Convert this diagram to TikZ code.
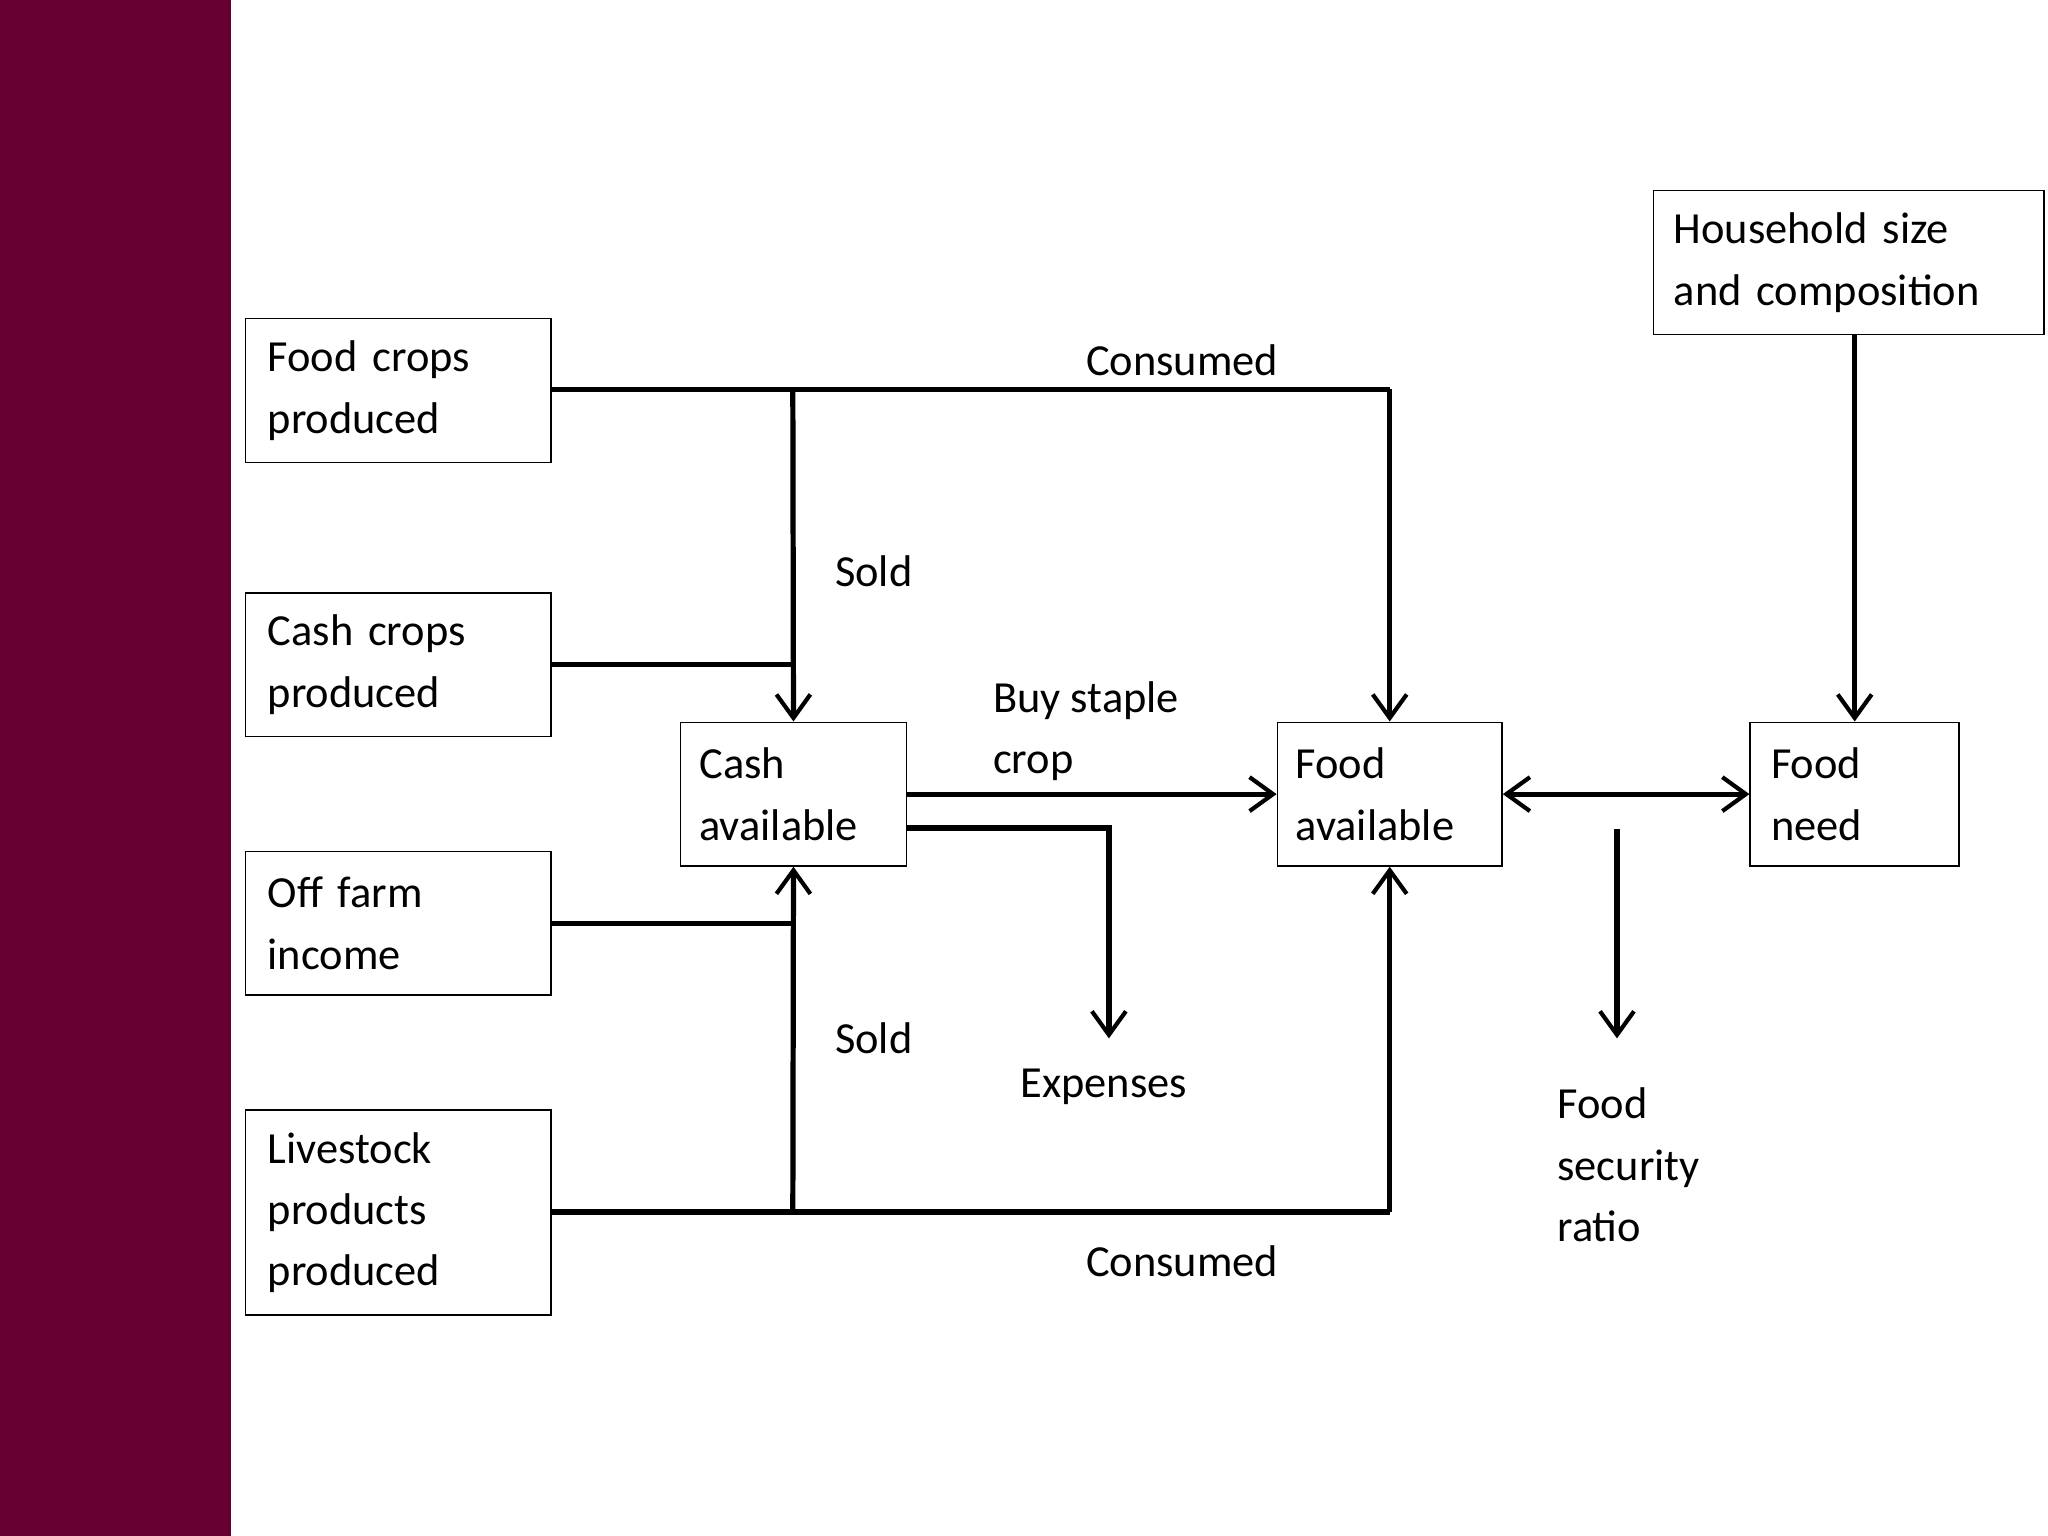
\documentclass[tikz,border=0pt]{standalone}
\usepackage{fontspec}
\setmainfont{Carlito}
\usetikzlibrary{arrows.meta,calc}
\definecolor{maroon}{HTML}{650030}
\begin{document}
\begin{tikzpicture}[x=0.5pt,y=-0.5pt,
  box/.style={draw,line width=0.6pt,inner sep=0pt,align=left,font=\fontsize{17}{23.5}\selectfont},
  lbl/.style={font=\fontsize{17}{23.5}\selectfont,align=left,inner sep=0pt},
  flow/.style={line width=2pt},
  arr/.style={flow,-{Straight Barb[length=9pt,width=13pt,line width=1.6pt]}}]
\useasboundingbox (0,0) rectangle (1568,1176);
\fill[maroon] (0,0) rectangle (177,1176);
\newcommand{\mybox}[6]{\draw[line width=0.6pt] (#2,#3) rectangle (#4,#5);
  \node[lbl,anchor=north west] at (#2+17,#3+12) {#6};
  \coordinate (#1) at ({(#2+#4)/2},{(#3+#5)/2});}
\node[box,minimum width=117pt,minimum height=55pt,text width=100pt] (fc) at (305,299) {Food crops\\produced};
\node[box,minimum width=117pt,minimum height=55pt,text width=100pt] (cc) at (305,509) {Cash crops\\produced};
\node[box,minimum width=117pt,minimum height=55pt,text width=100pt] (of) at (305,707) {Off farm\\income};
\node[box,minimum width=117pt,minimum height=78.5pt,text width=100pt] (lp) at (305,928.5) {Livestock\\products\\produced};
\node[box,minimum width=86.5pt,minimum height=55pt,text width=72pt] (ca) at (607.5,608) {Cash\\available};
\node[box,minimum width=86pt,minimum height=55pt,text width=72pt] (fa) at (1064,608) {Food\\available};
\node[box,minimum width=80pt,minimum height=55pt,text width=64pt] (fn) at (1420,608) {Food\\need};
\node[box,minimum width=149.5pt,minimum height=55pt,text width=134pt] (hh) at (1415.5,201) {Household size\\and composition};
\coordinate (j1) at (607,298);
\coordinate (j2) at (1064,298);
\coordinate (j3) at (607,928);
\coordinate (j4) at (1064,928);
\coordinate (e1) at (849,634);
\coordinate (e2) at (849,795);
\coordinate (r1) at (1238,635);
\coordinate (r2) at (1238,795);
\draw[flow] (fc.east|-j1) -- (j2);
\draw[arr] (j2) -- (fa.north);
\draw[arr] (j1) -- (ca.north);
\draw[flow] (cc.east) -- (cc.east-|j1);
\draw[flow] (of.east) -- (of.east-|j1);
\draw[flow] (lp.east|-j3) -- (j4);
\draw[arr] (j4) -- (fa.south);
\draw[arr] (j3) -- (ca.south);
\draw[arr] (ca.east) -- (fa.west);
\draw[arr] (ca.east|-e1) -- (e1) -- (e2);
\draw[flow,{Straight Barb[length=9pt,width=13pt,line width=1.6pt]}-{Straight Barb[length=9pt,width=13pt,line width=1.6pt]}] (fa.east) -- (fn.west);
\draw[arr] (r1) -- (r2);
\draw[arr] (hh.south-|fn.north) -- (fn.north);
\node[lbl] (t1) at (905,276) {Consumed};
\node[lbl] (t2) at (669,437) {Sold};
\node[lbl,anchor=west] (t3) at (760,560) {Buy staple\\crop};
\node[lbl] (t4) at (669,795) {Sold};
\node[lbl] (t5) at (845,832) {Expenses};
\node[lbl] (t6) at (905,966) {Consumed};
\node[lbl,anchor=west] (t7) at (1192,892) {Food\\security\\ratio};
\end{tikzpicture}
\end{document}
